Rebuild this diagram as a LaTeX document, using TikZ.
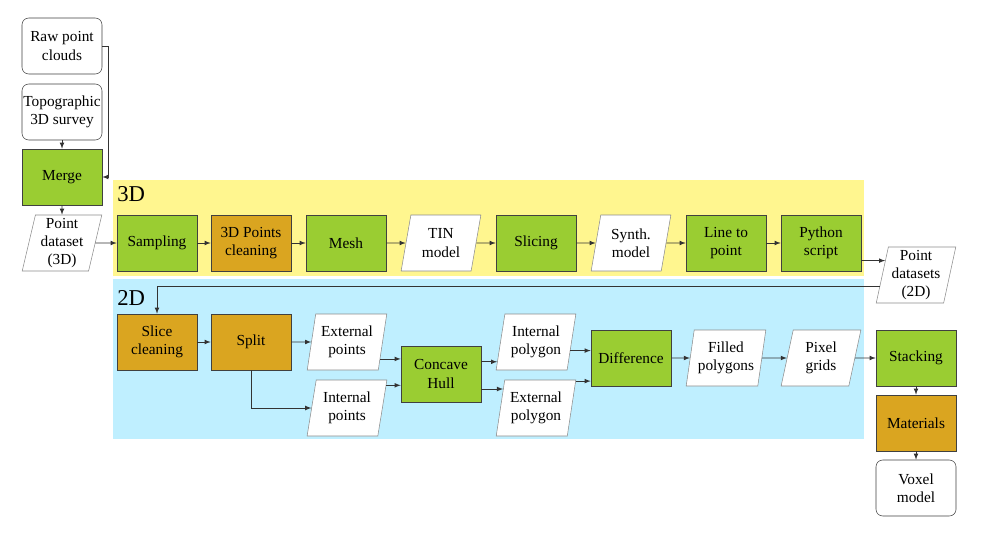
\documentclass[tikz,border=0pt]{standalone}
\usepackage{fontspec}
\setmainfont{Liberation Serif}
\usetikzlibrary{arrows,shapes.geometric}
\definecolor{stepgreen}{RGB}{154,205,50}
\definecolor{steporange}{RGB}{218,165,32}
\definecolor{bandyellow}{RGB}{255,246,143}
\definecolor{bandblue}{RGB}{191,239,255}
\begin{document}
\begin{tikzpicture}[x=0.75pt, y=-0.75pt, font=\rmfamily\fontsize{11.5}{13.8}\selectfont]
    \tikzstyle{flow box} = [rectangle,draw=black!75,thin,align=center,inner sep=1pt,minimum width=60pt,minimum height=42pt]
    \tikzstyle{flow process} = [flow box, fill=stepgreen]
    \tikzstyle{flow cleaning} = [flow box, fill=steporange]
    \tikzstyle{flow source} = [flow box, fill=white, rounded corners=5pt]
    \tikzstyle{flow data} = [trapezium,trapezium left angle=78,trapezium right angle=102,trapezium stretches=true,draw=black!45,thin,fill=white,align=center,inner sep=1pt,minimum width=60pt,minimum height=42pt]
    \tikzstyle{flow band label} = [anchor=west,inner sep=0pt,font=\rmfamily\fontsize{17}{20}\selectfont]
    \tikzstyle{flow edge} = [draw=black!80, line width=0.6pt, ->, >=latex]
\useasboundingbox (0,0) rectangle (988,549);
\fill[bandyellow] (113,180) rectangle (864,276);
\fill[bandblue] (113,279) rectangle (864,439);
\node[flow band label] (lab3d) at (117,194) {3D};
\node[flow band label] (lab2d) at (117,298) {2D};
\node[flow source] (raw) at (62,46) {Raw point\\clouds};
\node[flow source] (topo) at (62,112) {Topographic\\3D survey};
\node[flow process] (merge) at (62,177) {Merge};
\node[flow data] (pd3) at (62,243) {Point\\dataset\\(3D)};
\node[flow process] (sampling) at (157,243) {Sampling};
\node[flow cleaning] (clean3d) at (251,243) {3D Points\\cleaning};
\node[flow process] (mesh) at (346,243) {Mesh};
\node[flow data] (tin) at (441,243) {TIN\\model};
\node[flow process] (slicing) at (536,243) {Slicing};
\node[flow data] (synth) at (631,243) {Synth.\\model};
\node[flow process] (line) at (726,243) {Line to\\point};
\node[flow process] (python) at (821,243) {Python\\script};
\node[flow data] (pd2) at (916,275) {Point\\datasets\\(2D)};
\node[flow cleaning] (slice) at (157,342) {Slice\\cleaning};
\node[flow cleaning] (split) at (251,342) {Split};
\node[flow data] (extp) at (347,342) {External\\points};
\node[flow data] (intp) at (347,408) {Internal\\points};
\node[flow process] (hull) at (441,374) {Concave\\Hull};
\node[flow data] (intpoly) at (536,342) {Internal\\polygon};
\node[flow data] (extpoly) at (536,408) {External\\polygon};
\node[flow process] (diff) at (631,358) {Difference};
\node[flow data] (filled) at (726,358) {Filled\\polygons};
\node[flow data] (pixel) at (821,358) {Pixel\\grids};
\node[flow process] (stacking) at (916,358) {Stacking};
\node[flow cleaning] (materials) at (916,423) {Materials};
\node[flow source] (voxel) at (916,488) {Voxel\\model};
\draw[flow edge] (raw.east) -- ++(6,0) |- (merge.east);
\draw[flow edge] (topo) to (merge);
\draw[flow edge] (merge) to (pd3);
\draw[flow edge] (pd3) to (sampling);
\draw[flow edge] (sampling) to (clean3d);
\draw[flow edge] (clean3d) to (mesh);
\draw[flow edge] (mesh) to (tin);
\draw[flow edge] (tin) to (slicing);
\draw[flow edge] (slicing) to (synth);
\draw[flow edge] (synth) to (line);
\draw[flow edge] (line) to (python);
\draw[flow edge] (pd2.155 -| python.east) -- (pd2.155);
\draw[flow edge] (pd2.197) -| (slice.north);
\draw[flow edge] (slice) to (split);
\draw[flow edge] (split) to (extp);
\draw[flow edge] (split.south) |- (intp.west);
\draw[flow edge] (extp.-27) -- (extp.-27 -| hull.west);
\draw[flow edge] (intp.30) -- (intp.30 -| hull.west);
\draw[flow edge] (intpoly.-153 -| hull.east) -- (intpoly.-153);
\draw[flow edge] (extpoly.150 -| hull.east) -- (extpoly.150);
\draw[flow edge] (intpoly.-14) -- (intpoly.-14 -| diff.west);
\draw[flow edge] (extpoly.34) -- (extpoly.34 -| diff.west);
\draw[flow edge] (diff) to (filled);
\draw[flow edge] (filled) to (pixel);
\draw[flow edge] (pixel) to (stacking);
\draw[flow edge] (stacking) to (materials);
\draw[flow edge] (materials) to (voxel);
\end{tikzpicture}
\end{document}
